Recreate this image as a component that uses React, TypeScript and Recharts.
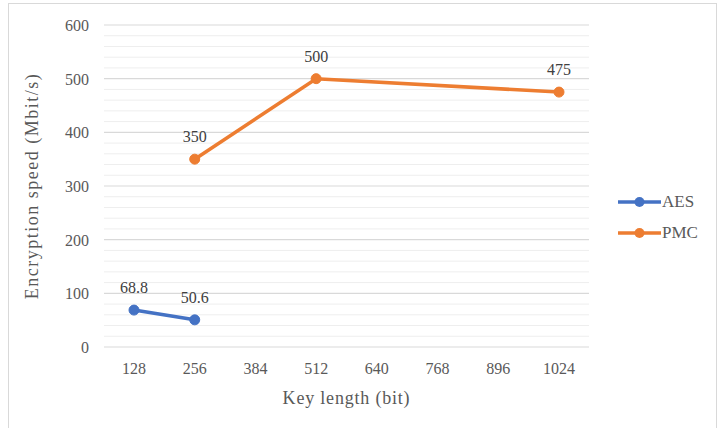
import React from 'react';
import {
  LineChart,
  Line,
  XAxis,
  YAxis,
  CartesianGrid,
  ReferenceLine,
  LabelList,
} from 'recharts';

const keyLengths = [128, 256, 384, 512, 640, 768, 896, 1024];
const aesSpeed = [68.8, 50.6, null, null, null, null, null, null];
const pmcSpeed = [null, 350, null, 500, null, null, null, 475];
const yTicks = [0, 100, 200, 300, 400, 500, 600];
const minorLines = [
  20, 40, 60, 80, 120, 140, 160, 180, 220, 240, 260, 280, 320, 340, 360, 380,
  420, 440, 460, 480, 520, 540, 560, 580,
];
const seriesNames = ['AES', 'PMC'];

const data = keyLengths.map((k, i) => ({
  key: String(k),
  AES: aesSpeed[i],
  PMC: pmcSpeed[i],
}));

const FONT = 'Liberation Serif';
const AES_COLOR = '#4472C4';
const PMC_COLOR = '#ED7D31';
const COLORS = [AES_COLOR, PMC_COLOR];

// axis ticks drawn as plain svg text so the serif face sticks
const XTick = (props: any) => {
  const { x, y, payload } = props;
  return (
    <text x={x} y={y + 11} textAnchor="middle" fill="#595959" fontSize={16} fontFamily={FONT}>
      {payload.value}
    </text>
  );
};

const YTick = (props: any) => {
  const { x, y, payload } = props;
  return (
    <text x={x} y={y + 6} textAnchor="end" fill="#595959" fontSize={16} fontFamily={FONT}>
      {payload.value}
    </text>
  );
};

const ValueLabel = (props: any) => {
  const { x, y, width, value } = props;
  if (value == null) return null;
  return (
    <text
      x={x + (width || 0) / 2}
      y={y - 17}
      textAnchor="middle"
      fill="#404040"
      fontSize={16}
      fontFamily={FONT}
    >
      {value}
    </text>
  );
};

const LegendBox: React.FC = () => (
  <div
    style={{
      position: 'absolute',
      left: 618,
      top: 186,
      fontFamily: FONT,
      fontSize: 17,
      color: '#595959',
    }}
  >
    {seriesNames.map((name, i) => (
      <div key={name} style={{ display: 'flex', alignItems: 'center', height: 31 }}>
        <svg width={43} height={12}>
          <line x1={0} y1={6} x2={43} y2={6} stroke={COLORS[i]} strokeWidth={3.5} />
          <circle cx={21.5} cy={6} r={5} fill={COLORS[i]} />
        </svg>
        <span style={{ marginLeft: 1 }}>{name}</span>
      </div>
    ))}
  </div>
);

const App: React.FC = () => {
  return (
    <div
      style={{
        position: 'absolute',
        left: 0,
        top: 0,
        width: 720,
        height: 428,
        background: '#fff',
        fontFamily: FONT,
      }}
    >
      <div
        style={{
          position: 'absolute',
          left: 8,
          top: 3,
          width: 709,
          height: 440,
          border: '1.5px solid #d9d9d9',
          boxSizing: 'border-box',
        }}
      />
      <LineChart
        width={720}
        height={428}
        data={data}
        margin={{ top: 25, right: 131, left: 44, bottom: 51 }}
        style={{ position: 'absolute', left: 0, top: 0 }}
      >
        {minorLines.map((v) => (
          <ReferenceLine key={v} y={v} stroke="#eeeeee" strokeWidth={1} />
        ))}
        <CartesianGrid vertical={false} stroke="#d9d9d9" strokeWidth={1.2} />
        <XAxis
          dataKey="key"
          axisLine={false}
          tickLine={false}
          tickMargin={10}
          height={30}
          padding={{ left: 30, right: 30 }}
          tick={<XTick />}
          label={{
            value: 'Key length (bit)',
            position: 'bottom',
            offset: 14,
            fill: '#595959',
            fontSize: 18,
            fontFamily: FONT,
            letterSpacing: 0.8,
          }}
        />
        <YAxis
          domain={[0, 600]}
          ticks={yTicks}
          width={60}
          axisLine={false}
          tickLine={false}
          tickMargin={9}
          tick={<YTick />}
          label={{
            value: 'Encryption speed (Mbit/s)',
            angle: -90,
            position: 'insideLeft',
            offset: -12,
            fill: '#595959',
            fontSize: 18,
            fontFamily: FONT,
            letterSpacing: 1.5,
            style: { textAnchor: 'middle' },
          }}
        />
        <Line
          type="linear"
          dataKey="AES"
          stroke={AES_COLOR}
          strokeWidth={3.5}
          dot={{ r: 5, fill: AES_COLOR, stroke: AES_COLOR, strokeWidth: 1 }}
          activeDot={false}
          isAnimationActive={false}
        >
          <LabelList dataKey="AES" content={<ValueLabel />} />
        </Line>
        <Line
          type="linear"
          dataKey="PMC"
          stroke={PMC_COLOR}
          strokeWidth={3.5}
          connectNulls
          dot={{ r: 5, fill: PMC_COLOR, stroke: PMC_COLOR, strokeWidth: 1 }}
          activeDot={false}
          isAnimationActive={false}
        >
          <LabelList dataKey="PMC" content={<ValueLabel />} />
        </Line>
      </LineChart>
      <LegendBox />
    </div>
  );
};

export default App;
